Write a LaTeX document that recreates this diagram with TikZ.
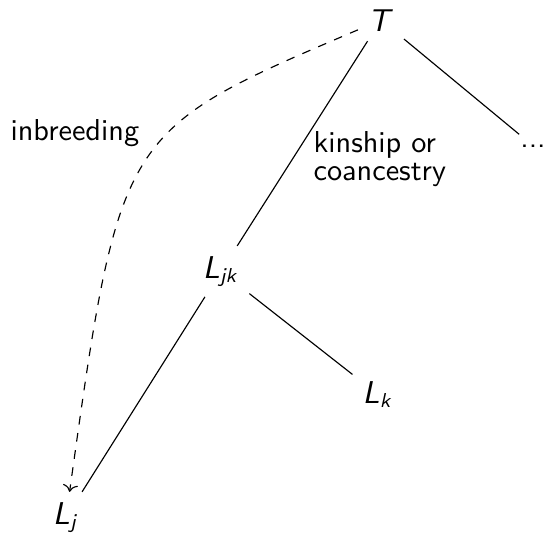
\documentclass[tikz,border=0pt]{standalone}
\usepackage{tikz}
\usetikzlibrary{arrows.meta}
\renewcommand{\familydefault}{\sfdefault}
\DeclareMathAlphabet{\mathsfsl}{OT1}{cmss}{m}{sl}
\newcommand{\vx}[2]{$\mathsfsl{#1}_{\mathsfsl{#2}}$}

\begin{document}
\begin{tikzpicture}[x=0.347pt,y=-0.347pt,every node/.style={font=\fontsize{10.5}{12.6}\selectfont},
  v/.style={anchor=base},lbl/.style={anchor=base west,inner sep=0pt,align=left}]
\useasboundingbox (0,0) rectangle (545,538);
\node[v] (t) at (381,31) {$\mathsfsl{T}$};
\node[v] (dots) at (533,147) {...};
\node[v] (ljk) at (221,278) {\vx{L}{jk}};
\node[v] (lk) at (378,403) {\vx{L}{k}};
\node[v] (lj) at (66,524) {\vx{L}{j}};
\foreach \u/\v in {t/ljk,t/dots,ljk/lj,ljk/lk} \draw (\u) -- (\v);
% inbreeding path
\draw[->,dashed] (t) .. controls (120,131) .. (lj);
\node[lbl] (inb) at (10,140) {inbreeding};
\node[lbl] (kin) at (313,180) {kinship or\\[-2.9pt]coancestry};
\end{tikzpicture}
\end{document}
